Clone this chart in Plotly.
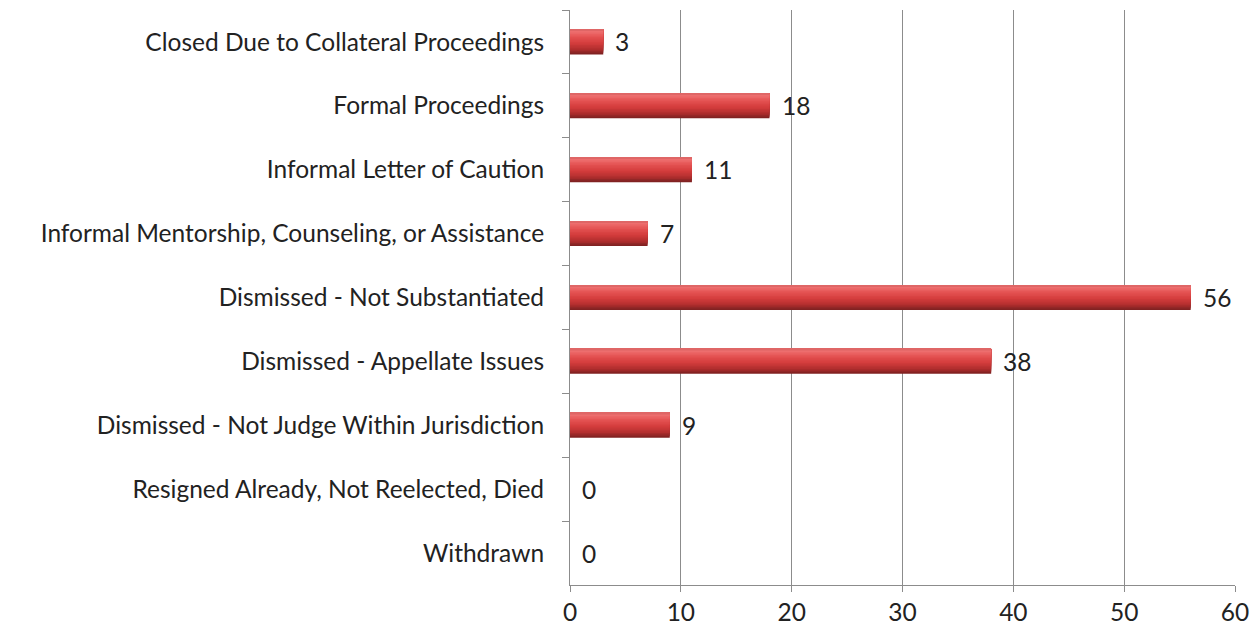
import plotly.graph_objects as go

categories = [
    "Closed Due to Collateral Proceedings",
    "Formal Proceedings",
    "Informal Letter of Caution",
    "Informal Mentorship, Counseling, or Assistance",
    "Dismissed - Not Substantiated",
    "Dismissed - Appellate Issues",
    "Dismissed - Not Judge Within Jurisdiction",
    "Resigned Already, Not Reelected, Died",
    "Withdrawn",
]
counts = [3, 18, 11, 7, 56, 38, 9, 0, 0]
x_ticks = [0, 10, 20, 30, 40, 50, 60]

FONT = "Lato"
FSIZE = 24.5
TEXT = "#222222"
GRID = "#8c8c8c"

fig = go.Figure()

# Cylinder-like shading: colour stops from the top edge (0) to the bottom edge (1)
BAR_W = 0.39
stops = [
    (0.00, (214, 96, 96)),
    (0.08, (238, 112, 112)),
    (0.30, (228, 82, 82)),
    (0.55, (212, 60, 60)),
    (0.80, (176, 46, 46)),
    (1.00, (120, 32, 32)),
]


def shade(f):
    for (f0, c0), (f1, c1) in zip(stops, stops[1:]):
        if f <= f1:
            t = (f - f0) / (f1 - f0) if f1 > f0 else 0
            r, g, b = (round(a + (b_ - a) * t) for a, b_ in zip(c0, c1))
            return f"rgb({r},{g},{b})"
    r, g, b = stops[-1][1]
    return f"rgb({r},{g},{b})"


N_BANDS = 16
# Each band runs from the top edge down to fraction f; drawn longest first so no seams show
for i in range(N_BANDS, 0, -1):
    f = i / N_BANDS
    col = shade((i - 0.5) / N_BANDS)
    fig.add_trace(go.Bar(
        x=counts, y=categories, orientation="h",
        width=[BAR_W * f] * len(counts), offset=[-BAR_W / 2] * len(counts),
        marker=dict(color=col, line=dict(width=0)),
        hoverinfo="skip", showlegend=False,
    ))

for c, v in zip(categories, counts):
    fig.add_annotation(
        x=v, y=c, text=str(v), showarrow=False,
        xanchor="left", yanchor="middle", xshift=10,
        font=dict(family=FONT, size=FSIZE, color=TEXT),
    )

fig.update_layout(
    width=1259, height=636,
    margin=dict(l=570, r=22, t=10, b=49),
    paper_bgcolor="white", plot_bgcolor="white",
    barmode="overlay",
    font=dict(family=FONT, size=FSIZE, color=TEXT),
)
fig.update_xaxes(
    range=[0, 60], tickvals=x_ticks, ticktext=[str(t) for t in x_ticks],
    showgrid=True, gridcolor=GRID, gridwidth=1,
    showline=True, linecolor=GRID, linewidth=1,
    ticks="outside", ticklen=6, tickcolor=GRID,
    zeroline=False, tickfont=dict(family=FONT, size=FSIZE, color=TEXT),
)
fig.update_yaxes(
    autorange="reversed", type="category",
    showgrid=False, showline=True, linecolor=GRID, linewidth=1,
    ticks="outside", ticklen=7, tickcolor=GRID, tickson="boundaries",
    ticklabelstandoff=20,
    tickfont=dict(family=FONT, size=FSIZE, color=TEXT),
)

fig.write_html("out.html")
